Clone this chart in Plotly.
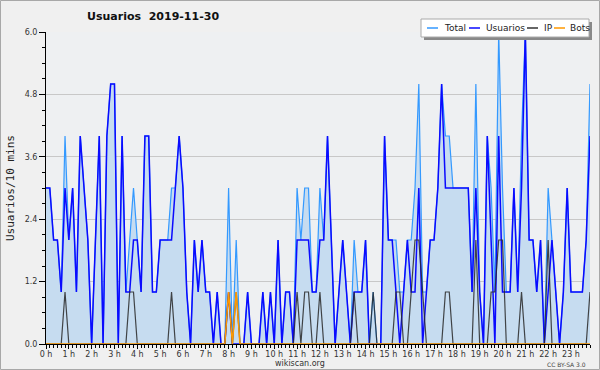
import plotly.graph_objects as go

# 10-minute slots over the day (0 .. 143)
slots = list(range(144))
hour_labels = [f"{h} h" for h in range(24)]

usuarios = [3,3,2,2,1,3,2,3,1,4, 3,2,0,2,4,0,4,5,5,0, 4,1,1,2,2,1,4,4,1,1,
            2,2,2,2,3,4,3,1,0,2, 1,2,1,1,0,1,0,0,1,0, 0,0,0,1,0,0,0,1,0,1,
            0,2,0,1,1,0,2,2,2,2, 1,1,2,2,4,2,0,1,2,1, 0,1,1,1,2,0,0,0,0,4,
            2,2,1,0,1,2,1,1,3,0, 1,2,2,3,5,3,3,3,3,3, 3,3,1,3,1,0,4,2,0,4,
            1,1,1,3,1,3,6,2,2,1, 2,0,1,2,1,0,1,3,1,1, 1,1,2,4]

ip = [0,0,0,0,0,1,0,0,0,0, 0,0,0,0,0,0,0,0,0,0, 0,0,1,1,0,0,0,0,0,0,
      0,0,0,1,0,0,0,0,0,0, 0,0,0,0,0,0,0,0,1,0, 1,0,0,0,0,0,0,0,0,0,
      0,0,0,0,0,0,1,0,1,1, 0,0,1,0,0,0,0,0,0,0, 0,1,0,0,0,0,1,0,0,0,
      0,0,1,1,0,0,1,2,2,1, 0,0,0,0,0,1,1,0,0,0, 0,0,0,2,0,0,0,1,1,2,
      2,0,0,0,0,1,0,0,0,0, 0,0,2,0,0,0,0,0,0,0, 0,0,0,1]

bots = [0]*48 + [1,0,1] + [0]*93

total = [3,3,2,2,1,4,2,3,1,4, 3,2,0,2,4,0,4,5,5,0, 4,1,2,3,2,1,4,4,1,1,
         2,2,2,3,3,4,3,1,0,2, 1,2,1,1,0,1,0,0,3,0, 2,0,0,1,0,0,0,1,0,1,
         0,2,0,1,1,0,3,2,3,3, 1,1,3,2,4,2,0,1,2,1, 0,2,1,1,2,0,1,0,0,4,
         2,2,2,1,1,2,2,3,5,1, 1,2,2,3,5,4,4,3,3,3, 3,3,1,5,1,0,4,3,1,6,
         3,1,1,3,1,4,6,2,2,1, 2,0,3,2,1,0,1,3,1,1, 1,1,2,5]

y_ticks = [0.0, 1.2, 2.4, 3.6, 4.8, 6.0]

L, R, T, B = 46, 10, 32, 26
W, H = 600, 370
PW, PH = W - L - R, H - T - B

def px(x):
    return (x - L) / PW

def py(y):
    return (H - B - y) / PH

fig = go.Figure()
fig.add_trace(go.Scatter(x=slots, y=total, mode="lines", name="Total",
                         line=dict(color="#3399ff", width=1.2),
                         fill="tozeroy", fillcolor="rgb(198,220,240)"))
fig.add_trace(go.Scatter(x=slots, y=usuarios, mode="lines", name="Usuarios",
                         line=dict(color="#0a0aff", width=1.5)))
fig.add_trace(go.Scatter(x=slots, y=ip, mode="lines", name="IP",
                         line=dict(color="rgba(40,40,40,0.85)", width=1.2)))
fig.add_trace(go.Scatter(x=slots, y=bots, mode="lines", name="Bots",
                         line=dict(color="#ff9900", width=1.5)))

font = "DejaVu Sans"

fig.update_layout(
    width=W, height=H,
    margin=dict(l=L, r=R, t=T, b=B),
    paper_bgcolor="#f0f0f0",
    plot_bgcolor="#eef0f2",
    showlegend=False,
    font=dict(family=font, size=8, color="#333"),
    xaxis=dict(range=[0, 143], tickmode="array",
               tickvals=[6 * h for h in range(24)], ticktext=hour_labels,
               ticks="outside", ticklen=4, tickcolor="black", tickwidth=1,
               ticklabelstandoff=-2,
               showline=True, linecolor="black", linewidth=1,
               showgrid=False, zeroline=False,
               tickfont=dict(family=font, size=8, color="#333"),
               minor=dict(tickmode="linear", tick0=0, dtick=1, ticks="outside",
                          ticklen=3, tickcolor="black", showgrid=False)),
    yaxis=dict(range=[0, 6], tickmode="array", tickvals=y_ticks,
               tickformat=".1f", ticks="outside", ticklen=6, tickcolor="black",
               showline=True, linecolor="black", linewidth=1,
               showgrid=True, gridcolor="#c8c8c8", gridwidth=1, zeroline=False,
               tickfont=dict(family=font, size=8, color="#333"),
               minor=dict(tickmode="linear", tick0=0, dtick=0.3, ticks="outside",
                          ticklen=3, tickcolor="black", showgrid=False)),
)

ann = []
ann.append(dict(text="<b>Usuarios&nbsp; 2019-11-30</b>", x=px(85), y=py(17),
                xref="paper", yref="paper", xanchor="left", yanchor="middle",
                showarrow=False, font=dict(family=font, size=11, color="#111")))
ann.append(dict(text="wikiscan.org", x=px(300), y=py(363), xref="paper", yref="paper",
                xanchor="center", yanchor="middle", showarrow=False,
                font=dict(family=font, size=8, color="#333")))
ann.append(dict(text="CC BY-SA 3.0", x=px(588), y=py(364), xref="paper", yref="paper",
                xanchor="right", yanchor="middle", showarrow=False,
                font=dict(family=font, size=6, color="#444")))
ann.append(dict(text="Usuarios/10 mins", x=px(10), y=py(188), xref="paper", yref="paper",
                xanchor="center", yanchor="middle", textangle=-90, showarrow=False,
                font=dict(family="DejaVu Sans Mono", size=11, color="#222")))

shapes = []
# outer border
shapes.append(dict(type="rect", xref="paper", yref="paper",
                   x0=px(0.5), x1=px(W - 0.5), y0=py(H - 0.5), y1=py(0.5),
                   line=dict(color="#a8a8a8", width=1)))
# legend box with shadow
shapes.append(dict(type="rect", xref="paper", yref="paper",
                   x0=px(424), x1=px(592), y0=py(40), y1=py(22),
                   fillcolor="#888", line=dict(width=0)))
shapes.append(dict(type="rect", xref="paper", yref="paper",
                   x0=px(421), x1=px(589), y0=py(37), y1=py(19),
                   fillcolor="white", line=dict(color="#aaa", width=1)))
legend_items = [("Total", "#3399ff", 427, 442),
                ("Usuarios", "#0a0aff", 469, 484),
                ("IP", "#333333", 527, 542),
                ("Bots", "#ff9900", 554, 568)]
for name, col, lx, tx in legend_items:
    shapes.append(dict(type="line", xref="paper", yref="paper",
                       x0=px(lx), x1=px(lx + 11), y0=py(28), y1=py(28),
                       line=dict(color=col, width=1.5)))
    ann.append(dict(text=name, x=px(tx), y=py(28), xref="paper", yref="paper",
                    xanchor="left", yanchor="middle", showarrow=False,
                    font=dict(family=font, size=9, color="#222")))

fig.update_layout(annotations=ann, shapes=shapes)
fig.write_html("out.html", config={"displayModeBar": False},
               post_script="document.body.style.margin='0px';")
